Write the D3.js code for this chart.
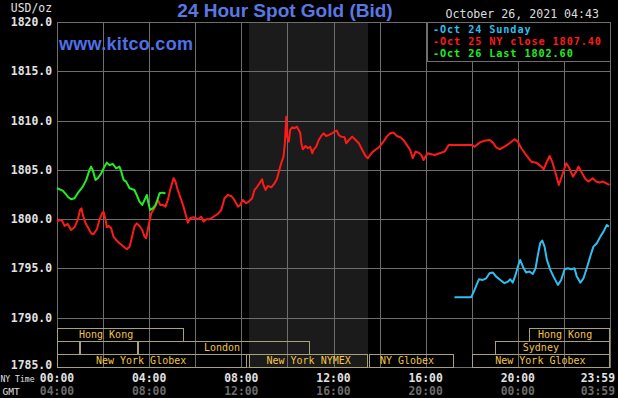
<!DOCTYPE html>
<html>
<head>
<meta charset="utf-8">
<script src="https://cdn.jsdelivr.net/npm/d3@7/dist/d3.min.js"></script>
<style>
  body { margin: 0; background: #000; }
  svg { display: block; }
</style>
</head>
<body>
<svg id="chart"></svg>
<script>
// ---- data (NY time in hours, price in USD/oz) ----
const oct24Hours = [17.25, 17.98, 18.12, 18.31, 18.48, 18.63, 18.77, 18.92, 19.06, 19.24, 19.42, 19.57, 19.67, 19.78, 19.9, 20.0, 20.1, 20.22, 20.36, 20.51, 20.65, 20.77, 20.87, 20.97, 21.06, 21.16, 21.26, 21.41, 21.55, 21.74, 21.88, 22.03, 22.17, 22.32, 22.46, 22.56, 22.71, 22.85, 22.99, 23.14, 23.28, 23.43, 23.58, 23.72, 23.86, 23.95];
const oct24Values = [1792.08, 1792.08, 1792.82, 1793.9, 1793.83, 1794.0, 1794.51, 1794.58, 1794.17, 1793.83, 1793.5, 1793.66, 1793.9, 1793.56, 1794.34, 1795.18, 1795.86, 1795.18, 1794.58, 1794.68, 1794.44, 1795.02, 1796.37, 1797.56, 1797.82, 1797.21, 1795.86, 1794.85, 1794.17, 1793.33, 1793.83, 1794.92, 1795.02, 1794.92, 1795.02, 1794.17, 1793.56, 1794.0, 1795.02, 1796.2, 1797.21, 1797.56, 1798.23, 1798.73, 1799.41, 1799.24];

const oct25Hours = [0, 0.11, 0.22, 0.33, 0.47, 0.61, 0.76, 0.9, 1.0, 1.06, 1.12, 1.24, 1.34, 1.48, 1.58, 1.73, 1.84, 1.96, 2.02, 2.11, 2.16, 2.25, 2.35, 2.45, 2.57, 2.71, 2.86, 3.03, 3.15, 3.26, 3.36, 3.46, 3.58, 3.7, 3.8, 3.87, 3.98, 4.09, 4.23, 4.38, 4.48, 4.59, 4.71, 4.81, 4.91, 5.06, 5.14, 5.24, 5.39, 5.49, 5.61, 5.68, 5.78, 5.92, 6.11, 6.26, 6.36, 6.48, 6.62, 6.84, 6.98, 7.13, 7.27, 7.41, 7.56, 7.7, 7.85, 7.95, 8.06, 8.21, 8.32, 8.47, 8.57, 8.67, 8.79, 8.9, 8.96, 9.05, 9.15, 9.3, 9.44, 9.54, 9.63, 9.73, 9.83, 9.89, 9.95, 9.99, 10.06, 10.12, 10.21, 10.31, 10.41, 10.49, 10.56, 10.6, 10.67, 10.79, 10.89, 10.99, 11.08, 11.13, 11.25, 11.36, 11.47, 11.57, 11.68, 11.8, 11.94, 12.04, 12.14, 12.23, 12.33, 12.48, 12.55, 12.67, 12.81, 12.96, 13.1, 13.25, 13.39, 13.49, 13.59, 13.71, 13.85, 14.0, 14.17, 14.31, 14.46, 14.6, 14.75, 14.9, 15.04, 15.18, 15.33, 15.44, 15.56, 15.7, 15.81, 15.91, 15.99, 16.09, 16.38, 16.6, 16.82, 17.0, 17.33, 17.61, 17.98, 18.12, 18.34, 18.55, 18.77, 18.92, 19.06, 19.21, 19.42, 19.64, 19.86, 20.0, 20.15, 20.36, 20.58, 20.8, 21.02, 21.12, 21.23, 21.38, 21.49, 21.64, 21.78, 21.93, 22.1, 22.24, 22.39, 22.53, 22.63, 22.79, 22.94, 23.08, 23.25, 23.4, 23.55, 23.69, 23.84, 23.98];
const oct25Values = [1799.75, 1799.92, 1799.85, 1799.31, 1799.51, 1798.9, 1799.17, 1799.92, 1800.93, 1801.1, 1800.43, 1799.58, 1799.17, 1798.57, 1798.47, 1798.97, 1799.92, 1800.6, 1800.76, 1799.92, 1799.17, 1799.31, 1799.08, 1798.23, 1797.89, 1797.56, 1797.28, 1796.95, 1797.21, 1798.23, 1799.24, 1799.58, 1799.31, 1798.9, 1798.23, 1798.06, 1799.41, 1800.6, 1801.1, 1801.95, 1801.44, 1801.44, 1801.27, 1801.95, 1802.96, 1804.15, 1803.81, 1802.96, 1801.95, 1801.27, 1800.25, 1799.64, 1800.09, 1800.19, 1799.99, 1800.25, 1799.75, 1799.99, 1799.99, 1800.32, 1800.53, 1800.93, 1802.12, 1802.45, 1802.35, 1801.95, 1801.27, 1801.44, 1801.95, 1801.61, 1801.78, 1802.12, 1802.96, 1803.23, 1803.64, 1804.05, 1803.47, 1802.96, 1803.37, 1803.23, 1803.64, 1804.05, 1804.82, 1805.67, 1806.34, 1807.7, 1810.4, 1808.37, 1807.86, 1809.05, 1809.32, 1809.22, 1809.38, 1809.05, 1808.71, 1807.76, 1807.09, 1807.42, 1807.19, 1807.35, 1806.68, 1807.02, 1807.35, 1808.03, 1808.44, 1808.71, 1808.44, 1808.54, 1808.71, 1808.88, 1808.98, 1808.54, 1808.37, 1808.31, 1807.7, 1808.03, 1808.37, 1808.03, 1807.7, 1807.02, 1806.41, 1806.18, 1806.51, 1806.85, 1807.09, 1807.35, 1807.86, 1808.37, 1808.71, 1808.78, 1808.44, 1808.31, 1808.03, 1807.53, 1807.02, 1806.18, 1806.85, 1806.75, 1806.51, 1806.0, 1806.34, 1806.68, 1806.51, 1806.68, 1806.85, 1807.53, 1807.53, 1807.53, 1807.53, 1807.35, 1807.76, 1807.96, 1808.03, 1807.76, 1807.29, 1807.09, 1807.35, 1807.7, 1808.1, 1807.86, 1807.19, 1806.51, 1805.83, 1805.73, 1805.33, 1805.06, 1805.67, 1806.41, 1805.83, 1804.65, 1803.47, 1804.48, 1805.67, 1805.16, 1804.31, 1804.82, 1805.33, 1804.65, 1804.05, 1803.81, 1804.15, 1803.81, 1803.71, 1803.81, 1803.64, 1803.47];

const oct26Hours = [0, 0.25, 0.47, 0.61, 0.76, 0.9, 1.12, 1.27, 1.41, 1.48, 1.55, 1.67, 1.77, 1.92, 2.06, 2.16, 2.28, 2.42, 2.57, 2.71, 2.79, 2.89, 3.0, 3.15, 3.36, 3.46, 3.58, 3.7, 3.8, 3.9, 3.97, 4.04, 4.16, 4.28, 4.38, 4.45, 4.59, 4.71];
const oct26Values = [1803.13, 1802.89, 1802.28, 1802.02, 1802.12, 1802.63, 1803.3, 1803.98, 1804.99, 1805.33, 1804.99, 1803.98, 1804.15, 1804.65, 1805.33, 1805.73, 1805.5, 1805.6, 1805.16, 1805.33, 1804.82, 1803.98, 1803.81, 1803.13, 1802.96, 1802.45, 1801.78, 1801.44, 1801.95, 1802.45, 1801.61, 1800.93, 1801.1, 1801.44, 1802.12, 1802.63, 1802.69, 1802.6];

const legendLabels = ["Oct 24 Sunday", "Oct 25 NY close 1807.40", "Oct 26 Last 1802.60"];
const seriesColors = ["#2fbfef", "#ff1a1a", "#22ee22"];

const yTicks = [1785, 1790, 1795, 1800, 1805, 1810, 1815, 1820];
const xTickHours = [0, 4, 8, 12, 16, 20, 24];
const nyTickLabels = ["00:00", "04:00", "08:00", "12:00", "16:00", "20:00", "23:59"];
const gmtTickLabels = ["04:00", "08:00", "12:00", "16:00", "20:00", "00:00", "03:59"];

// market sessions: row, start hour, end hour, label, label centre hour
const sessionNames = ["Hong Kong", "", "", "London", "New York Globex", "New York NYMEX", "NY Globex", "New York Globex", "Sydney", "Hong Kong"];
const sessionRows = [0, 1, 1, 1, 2, 2, 2, 2, 1, 0];
const sessionStart = [0, 0, 1, 3.5, 0, 8.333, 13.55, 18, 19, 20.5];
const sessionEnd = [5.5, 1, 3.5, 11, 8.25, 13.5, 17.25, 24, 24, 24];
const sessionLabelAt = [2.13, 0, 0, 7.16, 3.65, 10.92, 15.19, 20.98, 21.0, 22.05];
const nymexHours = [8.333, 13.5];

// ---- layout ----
const W = 618, H = 398;
const plotLeft = 57, plotRight = 610, plotTop = 22, plotBottom = 367;
const mono = "'DejaVu Sans Mono', monospace";
const sans = "'Liberation Sans', Arial, sans-serif";

const svg = d3.select("#chart").attr("width", W).attr("height", H);
svg.append("rect").attr("width", W).attr("height", H).attr("fill", "#000");

const x = d3.scaleLinear().domain([0, 24]).range([plotLeft, plotRight]);
const y = d3.scaleLinear().domain([1785, 1820]).range([plotBottom, plotTop]);

// NYMEX shaded band
svg.append("rect")
  .attr("x", x(nymexHours[0])).attr("y", plotTop)
  .attr("width", x(nymexHours[1]) - x(nymexHours[0]))
  .attr("height", plotBottom - plotTop)
  .attr("fill", "#1b1b1b");

// grid
const grid = svg.append("g").attr("stroke", "#6e6e6e").attr("stroke-width", 1).attr("shape-rendering", "crispEdges");
grid.selectAll(".gx").data(d3.range(2, 24, 2)).enter().append("line")
  .attr("x1", d => Math.round(x(d)) + 0.5).attr("x2", d => Math.round(x(d)) + 0.5)
  .attr("y1", plotTop).attr("y2", plotBottom);
grid.selectAll(".gy").data(yTicks.slice(1, -1)).enter().append("line")
  .attr("x1", plotLeft).attr("x2", plotRight)
  .attr("y1", d => Math.round(y(d)) + 0.5).attr("y2", d => Math.round(y(d)) + 0.5);
svg.append("rect")
  .attr("x", plotLeft + 0.5).attr("y", plotTop + 0.5)
  .attr("width", plotRight - plotLeft).attr("height", plotBottom - plotTop)
  .attr("fill", "none").attr("stroke", "#6e6e6e").attr("shape-rendering", "crispEdges");

// session boxes
const rowTop = [328, 341, 354], rowH = 13;
const sessions = sessionNames.map((name, i) => ({
  name, row: sessionRows[i], s: sessionStart[i], e: sessionEnd[i], at: sessionLabelAt[i]
}));
const sess = svg.append("g");
sess.selectAll("rect").data(sessions).enter().append("rect")
  .attr("x", d => Math.round(x(d.s)) + 0.5)
  .attr("y", d => rowTop[d.row] + 0.5)
  .attr("width", d => Math.round(x(d.e)) - Math.round(x(d.s)) - 1)
  .attr("height", rowH)
  .attr("fill", "none")
  .attr("stroke", "#a8a274")
  .attr("stroke-width", 1.3)
  .attr("shape-rendering", "crispEdges");
sess.selectAll("text").data(sessions.filter(d => d.name)).enter().append("text")
  .attr("x", d => x(d.at))
  .attr("y", d => rowTop[d.row] + 10)
  .attr("text-anchor", "middle")
  .attr("font-family", mono).attr("font-size", 10)
  .attr("fill", "#f2c447")
  .text(d => d.name);

// price lines
const line = d3.line().x(d => x(d[0])).y(d => y(d[1]));
const series = [
  d3.zip(oct24Hours, oct24Values),
  d3.zip(oct25Hours, oct25Values),
  d3.zip(oct26Hours, oct26Values)
];
series.forEach((data, i) => {
  svg.append("path")
    .datum(data)
    .attr("d", line)
    .attr("fill", "none")
    .attr("stroke", seriesColors[i])
    .attr("stroke-width", 2)
    .attr("stroke-linejoin", "round");
});

// y labels
svg.append("g").selectAll("text").data(yTicks).enter().append("text")
  .attr("x", 52)
  .attr("y", d => d === 1785 ? y(d) + 2 : y(d) + 4)
  .attr("text-anchor", "end")
  .attr("font-family", mono).attr("font-size", 11.4).attr("font-weight", "bold")
  .attr("fill", "#e2e2e2")
  .text(d => d.toFixed(1));
svg.append("text").attr("x", 52).attr("y", 12).attr("text-anchor", "end")
  .attr("font-family", mono).attr("font-size", 11.4)
  .attr("fill", "#e2e2e2").text("USD/oz");

// x labels
const xl = svg.append("g").attr("font-family", mono).attr("font-size", 11.4).attr("font-weight", "bold");
xl.selectAll(".ny").data(xTickHours).enter().append("text")
  .attr("x", (d, i) => i === xTickHours.length - 1 ? 615 : x(d))
  .attr("y", 382)
  .attr("text-anchor", (d, i) => i === xTickHours.length - 1 ? "end" : "middle")
  .attr("fill", "#e2e2e2")
  .text((d, i) => nyTickLabels[i]);
xl.selectAll(".gmt").data(xTickHours).enter().append("text")
  .attr("x", (d, i) => i === xTickHours.length - 1 ? 615 : x(d))
  .attr("y", 395)
  .attr("text-anchor", (d, i) => i === xTickHours.length - 1 ? "end" : "middle")
  .attr("fill", "#6c6c6c")
  .text((d, i) => gmtTickLabels[i]);
svg.append("text").attr("x", 0.5).attr("y", 382)
  .attr("font-family", mono).attr("font-size", 8.2)
  .attr("textLength", 34).attr("lengthAdjust", "spacingAndGlyphs")
  .attr("fill", "#e2e2e2").text("NY Time");
svg.append("text").attr("x", 2.5).attr("y", 395)
  .attr("font-family", mono).attr("font-size", 9.5)
  .attr("fill", "#e2e2e2").text("GMT");

// titles
svg.append("text").attr("x", 285).attr("y", 17).attr("text-anchor", "middle")
  .attr("font-family", sans).attr("font-size", 19).attr("font-weight", "bold")
  .attr("fill", "#5a78e4").text("24 Hour Spot Gold (Bid)");
svg.append("text").attr("x", 59).attr("y", 50)
  .attr("font-family", sans).attr("font-size", 18).attr("font-weight", "bold")
  .attr("letter-spacing", 0.3)
  .attr("fill", "#4f70e8").text("www.kitco.com");
svg.append("text").attr("x", 599).attr("y", 18).attr("text-anchor", "end")
  .attr("font-family", mono).attr("font-size", 11.6)
  .attr("fill", "#dcdcdc").text("October 26, 2021 04:43");

// legend
svg.append("rect")
  .attr("x", 427.5).attr("y", plotTop + 0.5).attr("width", plotRight - 427).attr("height", 39)
  .attr("fill", "#000").attr("stroke", "#6e6e6e").attr("shape-rendering", "crispEdges");
svg.append("g").selectAll("text").data(legendLabels).enter().append("text")
  .attr("x", 433)
  .attr("y", (d, i) => 33 + i * 12)
  .attr("font-family", mono).attr("font-size", 10.2).attr("font-weight", "bold")
  .attr("letter-spacing", 0.9)
  .attr("fill", (d, i) => seriesColors[i])
  .text(d => "-" + d);
</script>
</body>
</html>
